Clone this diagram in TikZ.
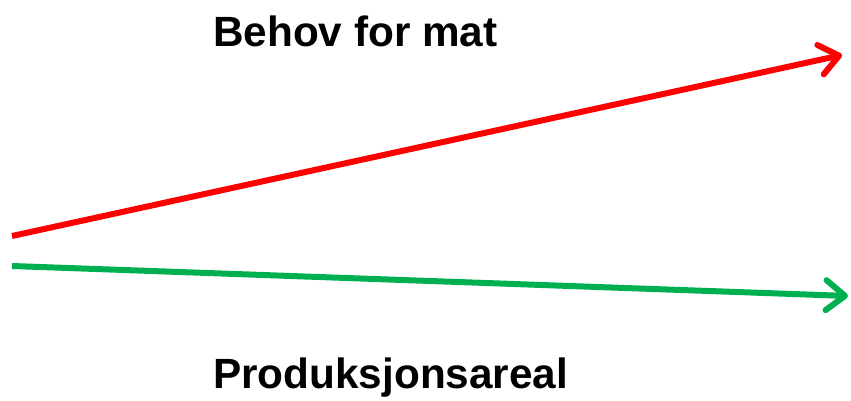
\documentclass[tikz,border=0pt]{standalone}
\usepackage{fontspec}
\setmainfont{Liberation Sans}
\usetikzlibrary{arrows.meta}
\definecolor{redline}{HTML}{FF0000}
\definecolor{greenline}{HTML}{00B050}
\begin{document}
\begin{tikzpicture}[x=1pt,y=1pt,
  trend/.style={line width=6pt, -{Straight Barb[length=19pt,width=30pt,round]}},
  lbl/.style={anchor=base west, inner sep=0pt, font=\fontsize{42.3}{48}\selectfont\bfseries}]
\useasboundingbox (0,0) rectangle (851,401);
\coordinate (r0) at (12,165);
\coordinate (r1) at (842,346);
\coordinate (g0) at (12,135);
\coordinate (g1) at (848,105);
\draw[trend, redline] (r0) -- (r1);
\draw[trend, greenline] (g0) -- (g1);
\node[lbl] (behov) at (213,354) {Behov for mat};
\node[lbl] (prod) at (213,12) {Produksjonsareal};
\end{tikzpicture}
\end{document}
